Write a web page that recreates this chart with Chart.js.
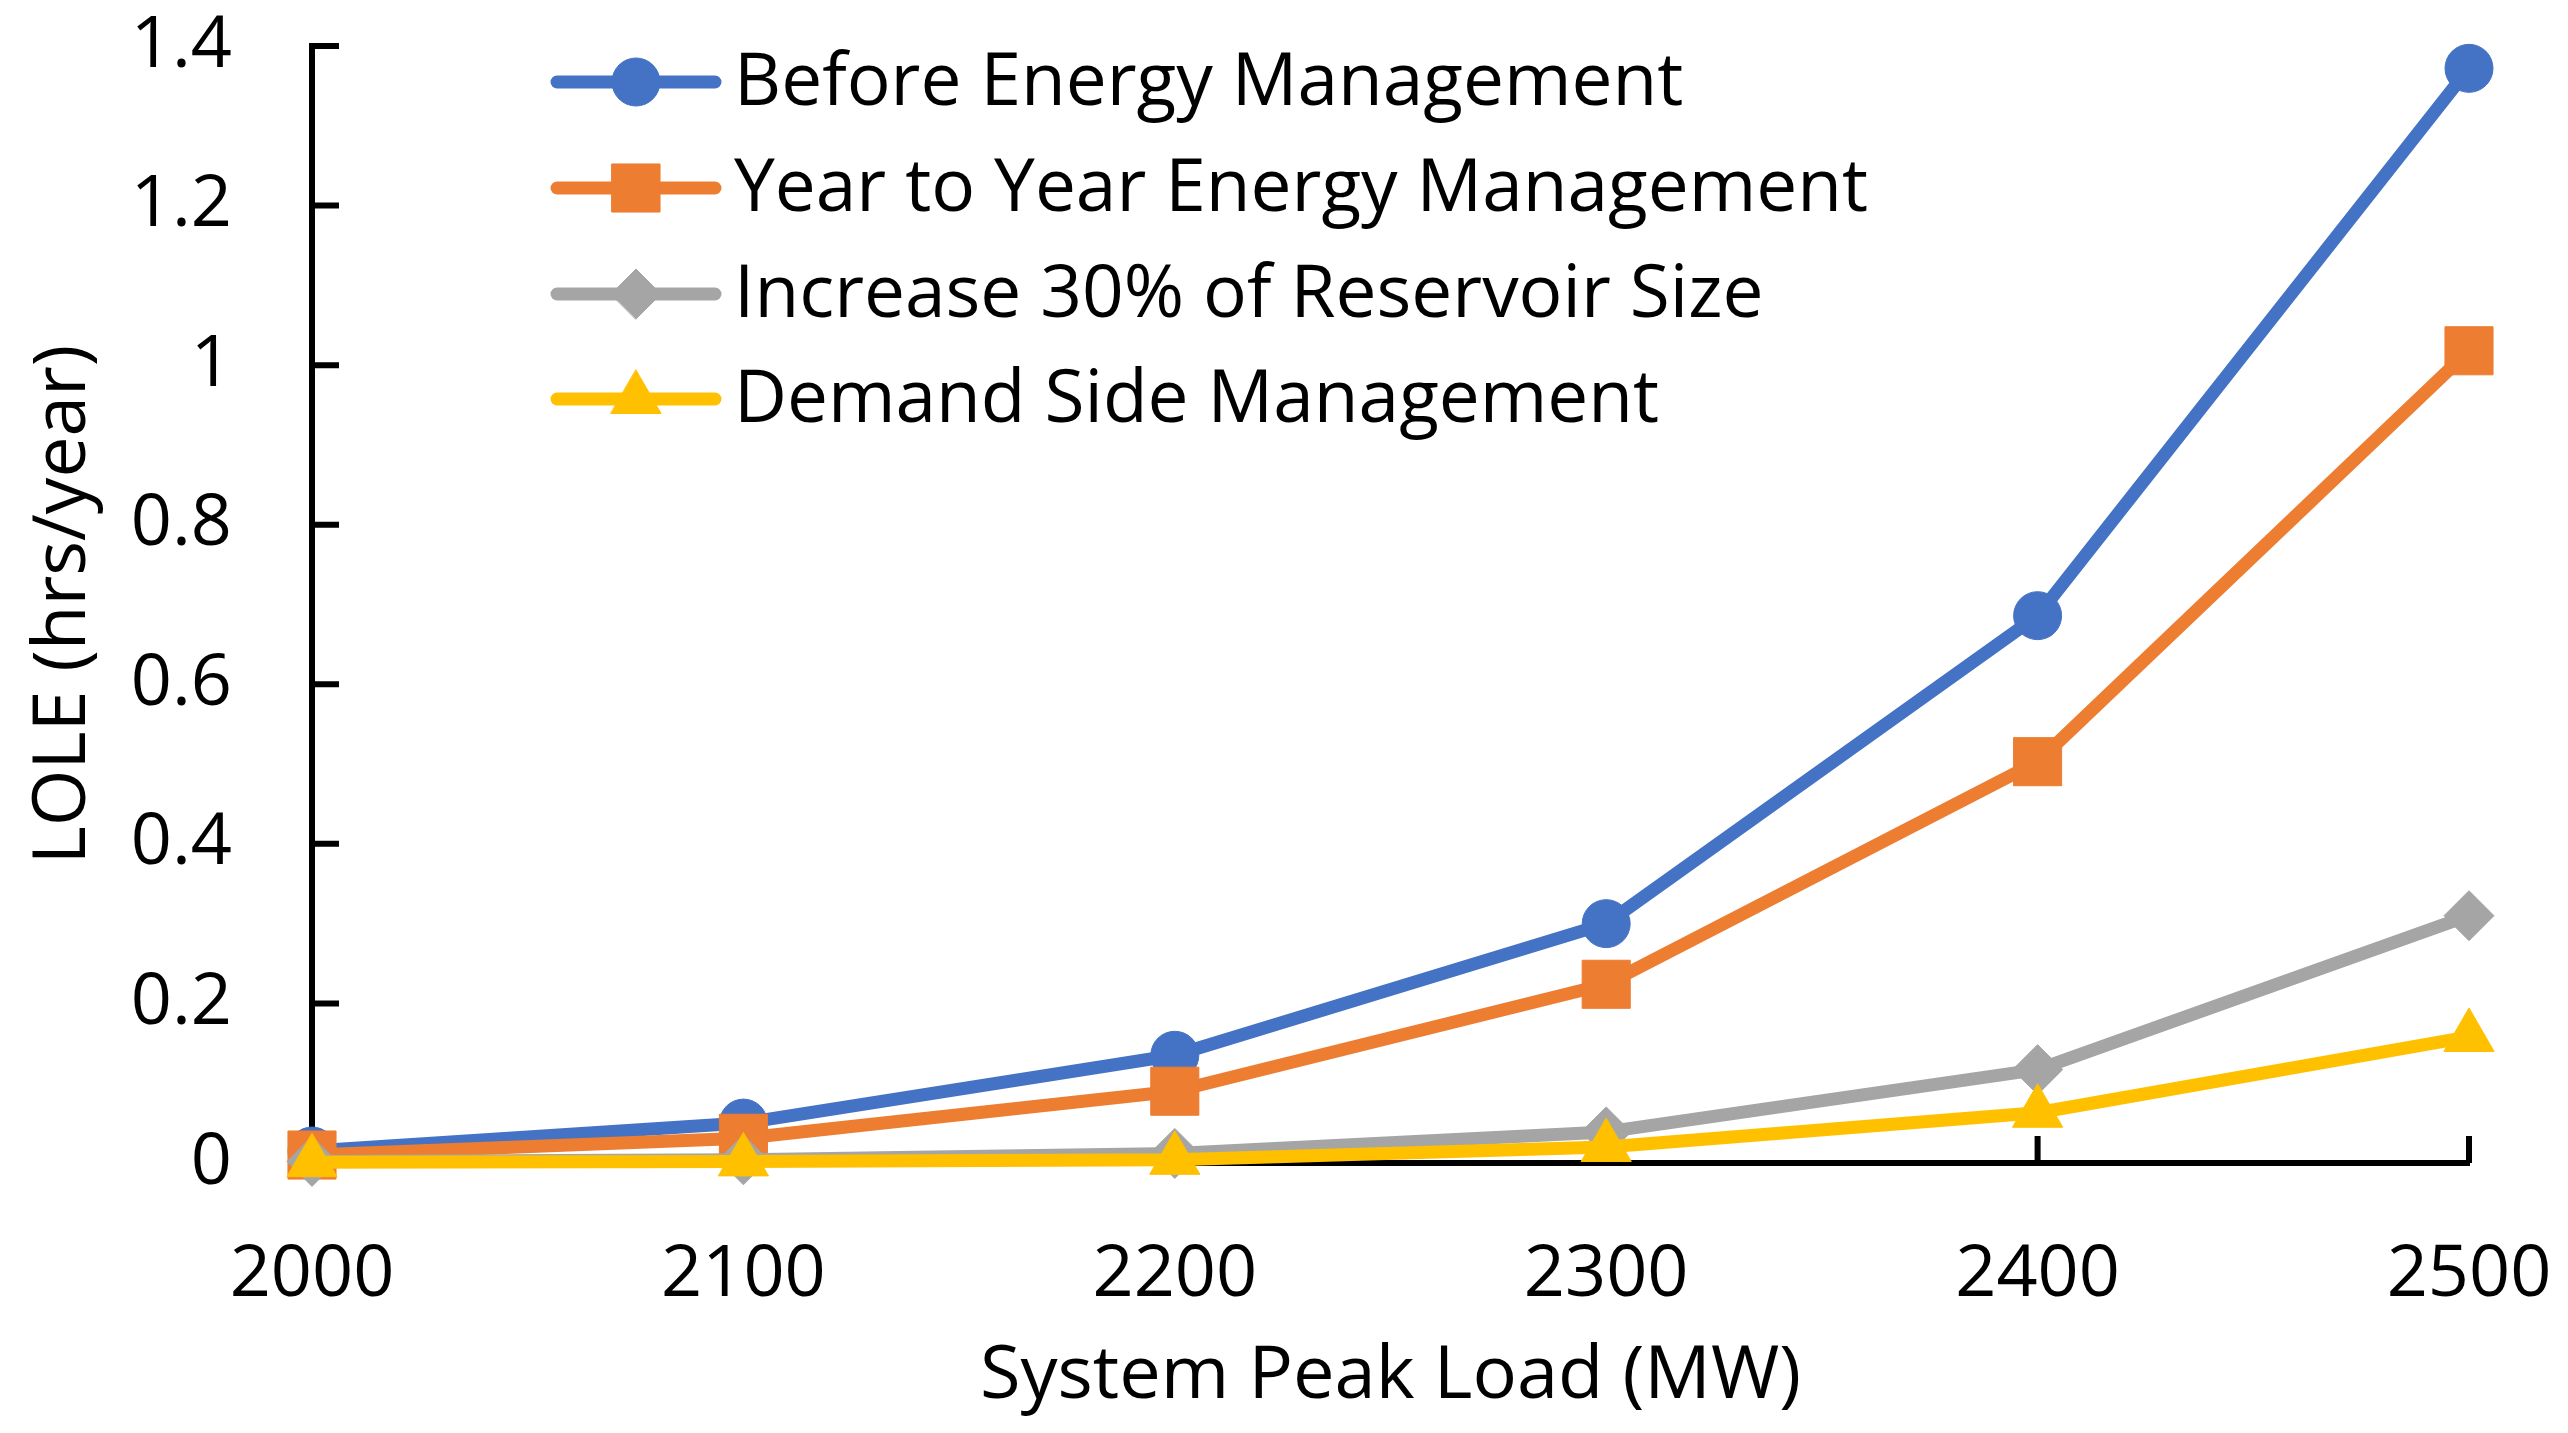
<!DOCTYPE html>
<html>
<head>
<meta charset="utf-8">
<script src="https://cdn.jsdelivr.net/npm/chart.js@4.4.1/dist/chart.umd.min.js"></script>
<style>
  html, body { margin: 0; padding: 0; background: #fff; }
  #wrap { position: relative; width: 2568px; height: 1433px; }
</style>
</head>
<body>
<div id="wrap"><canvas id="lole"></canvas></div>
<script>
// values
const peakLoads = ["2000", "2100", "2200", "2300", "2400", "2500"];
const beforeEM = [0.015, 0.05, 0.135, 0.30, 0.686, 1.372];
const yearToYearEM = [0.01, 0.031, 0.09, 0.224, 0.503, 1.018];
const reservoir30 = [0.002, 0.004, 0.012, 0.039, 0.117, 0.31];
const demandSide = [0.001, 0.002, 0.004, 0.02, 0.063, 0.158];
const yTickLabels = ["0", "0.2", "0.4", "0.6", "0.8", "1", "1.2", "1.4"];

const FONT = "'Open Sans'";
Chart.defaults.font.family = FONT;
Chart.defaults.color = "#000";

function series(label, data, color, style, radius, order) {
  return {
    label,
    data,
    borderColor: color,
    backgroundColor: color,
    borderWidth: 13,
    borderCapStyle: "round",
    borderJoinStyle: "round",
    pointStyle: style,
    pointRadius: radius,
    pointHoverRadius: radius,
    pointBackgroundColor: color,
    pointBorderColor: color,
    pointBorderWidth: 1,
    tension: 0,
    fill: false,
    clip: false,
    order,
  };
}

// inside tick marks, Excel style
const insideTicks = {
  id: "insideTicks",
  beforeDatasetsDraw(chart) {
    const { ctx, scales: { x, y }, chartArea } = chart;
    ctx.save();
    ctx.strokeStyle = "#000";
    ctx.lineWidth = 6;
    ctx.beginPath();
    y.ticks.forEach((t) => {
      const py = y.getPixelForValue(t.value);
      ctx.moveTo(chartArea.left, py);
      ctx.lineTo(chartArea.left + 27, py);
    });
    peakLoads.forEach((_, i) => {
      const px = x.getPixelForValue(i);
      ctx.moveTo(px, chartArea.bottom);
      ctx.lineTo(px, chartArea.bottom - 27);
    });
    ctx.stroke();
    ctx.restore();
  },
};

// legend with line sample + marker, placed like the original
const lineLegend = {
  id: "lineLegend",
  afterDatasetsDraw(chart) {
    const { ctx } = chart;
    const rows = [82, 188, 294, 399];
    ctx.save();
    chart.data.datasets.forEach((ds, i) => {
      const y = rows[i];
      ctx.strokeStyle = ds.borderColor;
      ctx.lineWidth = 13;
      ctx.lineCap = "round";
      ctx.beginPath();
      ctx.moveTo(557, y);
      ctx.lineTo(715, y);
      ctx.stroke();
      ctx.fillStyle = ds.pointBackgroundColor;
      ctx.strokeStyle = ds.pointBorderColor;
      ctx.lineWidth = 1;
      Chart.helpers.drawPoint(ctx, { pointStyle: ds.pointStyle, radius: ds.pointRadius, rotation: 0, borderWidth: 1 }, 636, y);
      ctx.fillStyle = "#000";
      ctx.font = "73px " + FONT;
      ctx.textBaseline = "middle";
      ctx.textAlign = "left";
      ctx.fillText(ds.label, 734, y + 2);
    });
    ctx.restore();
  },
};

new Chart(document.getElementById("lole"), {
  type: "line",
  data: {
    labels: peakLoads,
    datasets: [
      series("Before Energy Management", beforeEM, "#4472C4", "circle", 24, 3),
      series("Year to Year Energy Management", yearToYearEM, "#ED7D31", "rect", 34, 2),
      series("Increase 30% of Reservoir Size", reservoir30, "#A5A5A5", "rectRot", 25, 1),
      series("Demand Side Management", demandSide, "#FFC000", "triangle", 29, 0),
    ],
  },
  options: {
    responsive: true,
    maintainAspectRatio: false,
    devicePixelRatio: 1,
    animation: false,
    events: [],
    layout: { padding: { top: 46, right: 99, left: 0, bottom: 0 } },
    plugins: {
      legend: { display: false },
      tooltip: { enabled: false },
    },
    scales: {
      x: {
        type: "category",
        offset: false,
        grid: { display: false, drawTicks: false },
        border: { display: true, color: "#000", width: 6 },
        ticks: { font: { size: 72 }, padding: 69, maxRotation: 0, autoSkip: false },
        title: {
          display: true,
          text: "System Peak Load (MW)",
          font: { size: 74 },
          padding: { top: 0, bottom: 12 },
        },
        afterFit(scale) {
          scale.height = 270;
          scale.paddingLeft = 0;
          scale.paddingRight = 0;
        },
      },
      y: {
        min: 0,
        max: 1.4,
        grid: { display: false, drawTicks: false },
        border: { display: true, color: "#000", width: 6 },
        ticks: {
          stepSize: 0.2,
          font: { size: 72 },
          padding: 80,
          callback: (v, i) => yTickLabels[i],
        },
        title: {
          display: true,
          text: "LOLE (hrs/year)",
          font: { size: 73 },
          padding: { top: 20, bottom: 0 },
        },
        afterFit(scale) {
          scale.width = 312;
          scale.paddingTop = 0;
          scale.paddingBottom = 0;
        },
      },
    },
  },
  plugins: [insideTicks, lineLegend],
});
</script>
</body>
</html>
